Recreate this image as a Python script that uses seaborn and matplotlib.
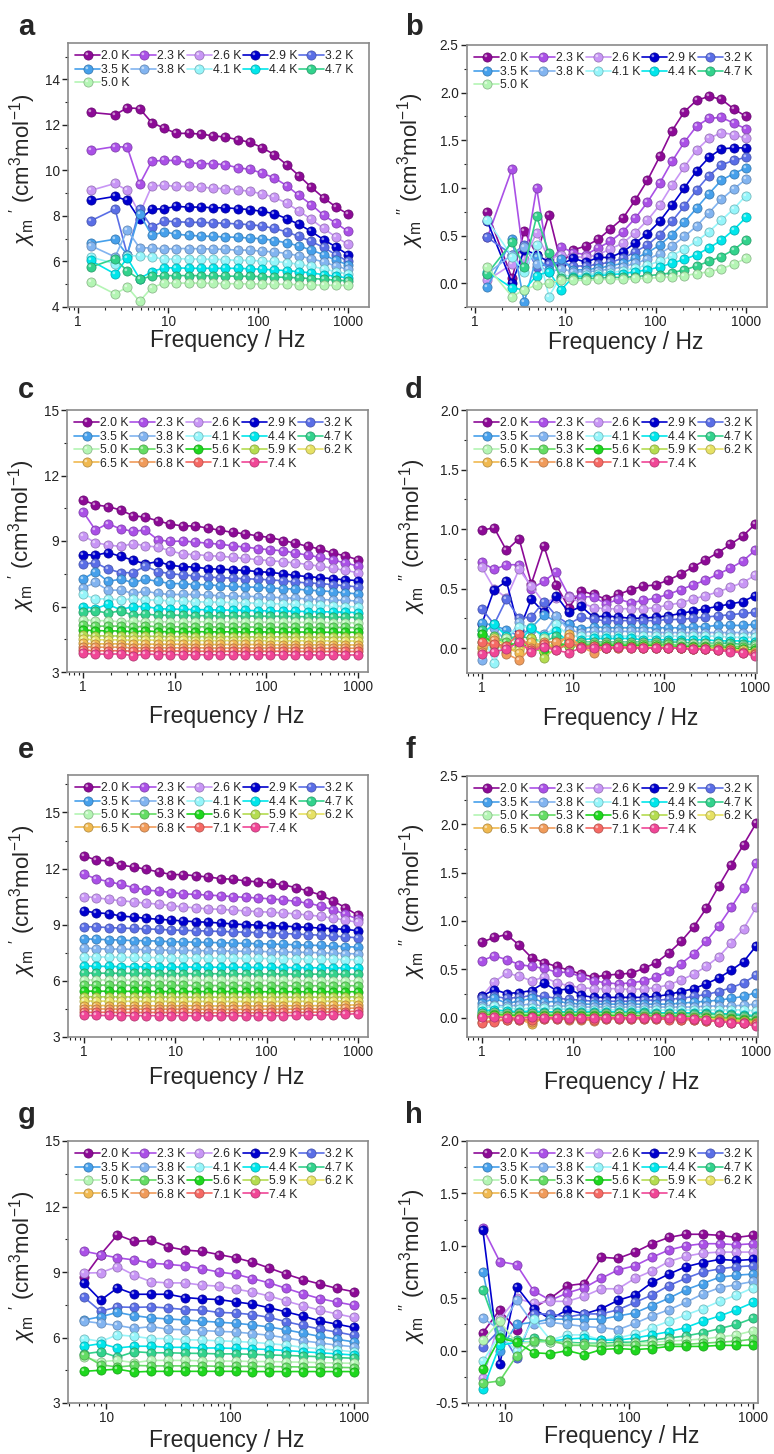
import numpy as np
import pandas as pd
import matplotlib
matplotlib.use("Agg")
import matplotlib.pyplot as plt
import matplotlib.colors as mcolors
import seaborn as sns
from matplotlib.path import Path
from matplotlib.lines import Line2D
from matplotlib.legend_handler import HandlerTuple
from matplotlib.ticker import FixedLocator, FuncFormatter, LogLocator, NullFormatter, FormatStrFormatter, AutoMinorLocator

# ---------------- data ----------------
TEMPS = ["2.0 K", "2.3 K", "2.6 K", "2.9 K", "3.2 K", "3.5 K", "3.8 K", "4.1 K", "4.4 K", "4.7 K",
         "5.0 K", "5.3 K", "5.6 K", "5.9 K", "6.2 K", "6.5 K", "6.8 K", "7.1 K", "7.4 K"]
COLORS = ['#8c0a96', '#aa50e6', '#c896f5', '#0000cd', '#5a6ee6', '#46a0eb', '#82b4f0', '#96f5fa',
          '#00e6eb', '#32d28c', '#b4f5b4', '#64dc64', '#1ed71e', '#b4dc50', '#e6e164', '#f0b950',
          '#f09b5a', '#f56964', '#f04696']

FREQ_AB = [1.37, 2.57, 3.51, 4.81, 6.58, 9.0, 12.3, 16.9, 23.1, 31.6, 43.3, 59.3, 81.1, 111, 152, 208,
           285, 390, 534, 731, 1000]
FREQ_CF = [1, 1.37, 1.87, 2.57, 3.51, 4.81, 6.58, 9.0, 12.3, 16.9, 23.1, 31.6, 43.3, 59.3, 81.1, 111,
           152, 208, 285, 390, 534, 731, 1000]
FREQ_GH = [6.58, 9.0, 12.3, 16.9, 23.1, 31.6, 43.3, 59.3, 81.1, 111, 152, 208, 285, 390, 534, 731, 1000]

CHI1_A = [
    [12.55, 12.45, 12.75, 12.72, 12.1, 11.86, 11.63, 11.63, 11.6, 11.52, 11.47, 11.35, 11.24, 11.0, 10.69, 10.25, 9.77, 9.26, 8.8, 8.4, 8.08],
    [10.88, 11.05, 11.02, 9.39, 10.41, 10.44, 10.44, 10.34, 10.3, 10.3, 10.25, 10.12, 10.05, 9.88, 9.67, 9.33, 8.9, 8.5, 8.03, 7.69, 7.32],
    [9.12, 9.43, 9.12, 8.1, 9.32, 9.35, 9.3, 9.3, 9.27, 9.22, 9.2, 9.15, 9.08, 8.97, 8.82, 8.56, 8.22, 7.85, 7.45, 7.08, 6.75],
    [8.68, 8.86, 8.68, 7.85, 8.29, 8.32, 8.42, 8.39, 8.39, 8.36, 8.36, 8.32, 8.28, 8.2, 8.1, 7.88, 7.63, 7.32, 6.96, 6.64, 6.3],
    [7.78, 8.3, 6.3, 8.3, 7.5, 7.78, 7.75, 7.72, 7.72, 7.7, 7.68, 7.65, 7.62, 7.56, 7.45, 7.3, 7.1, 6.88, 6.62, 6.3, 6.0],
    [6.8, 6.98, 6.3, 8.1, 7.15, 7.3, 7.2, 7.15, 7.12, 7.1, 7.08, 7.06, 7.03, 7.0, 6.92, 6.82, 6.68, 6.5, 6.3, 6.05, 5.85],
    [6.7, 6.2, 7.38, 6.6, 6.6, 6.55, 6.57, 6.57, 6.56, 6.55, 6.53, 6.5, 6.5, 6.45, 6.42, 6.35, 6.25, 6.12, 5.98, 5.8, 5.65],
    [6.2, 5.9, 6.25, 6.25, 6.2, 6.1, 6.12, 6.12, 6.1, 6.1, 6.08, 6.05, 6.05, 6.02, 6.0, 5.95, 5.88, 5.78, 5.68, 5.55, 5.45],
    [6.05, 5.45, 6.15, 5.25, 5.55, 5.72, 5.72, 5.7, 5.7, 5.7, 5.7, 5.7, 5.68, 5.66, 5.63, 5.6, 5.55, 5.5, 5.42, 5.35, 5.28],
    [5.75, 6.12, 5.58, 5.22, 5.35, 5.38, 5.38, 5.38, 5.38, 5.37, 5.36, 5.35, 5.35, 5.34, 5.32, 5.3, 5.28, 5.25, 5.22, 5.18, 5.15],
    [5.12, 4.57, 4.88, 4.25, 4.85, 5.05, 5.05, 5.05, 5.05, 5.04, 5.03, 5.02, 5.02, 5.01, 5.0, 5.0, 4.98, 4.97, 4.96, 4.95, 4.95],
]
CHI2_B = [
    [0.75, 0.05, 0.55, 0.3, 0.72, 0.2, 0.35, 0.39, 0.46, 0.57, 0.68, 0.87, 1.08, 1.33, 1.6, 1.8, 1.92, 1.96, 1.93, 1.83, 1.75],
    [0.48, 1.2, 0.22, 1.0, 0.2, 0.38, 0.32, 0.3, 0.37, 0.44, 0.54, 0.68, 0.85, 1.05, 1.28, 1.48, 1.65, 1.73, 1.74, 1.68, 1.62],
    [0.03, 0.2, 0.25, 0.53, 0.25, 0.3, 0.28, 0.27, 0.3, 0.36, 0.42, 0.53, 0.66, 0.82, 1.03, 1.22, 1.4, 1.52, 1.58, 1.56, 1.52],
    [0.65, 0.0, 0.35, 0.3, 0.22, 0.2, 0.26, 0.22, 0.27, 0.27, 0.33, 0.42, 0.52, 0.65, 0.82, 1.0, 1.18, 1.32, 1.41, 1.42, 1.42],
    [0.48, 0.3, 0.4, 0.17, 0.2, 0.22, 0.18, 0.18, 0.2, 0.22, 0.26, 0.33, 0.4, 0.51, 0.65, 0.81, 0.98, 1.13, 1.24, 1.29, 1.32],
    [-0.04, 0.46, -0.2, 0.28, 0.14, 0.25, 0.14, 0.14, 0.16, 0.18, 0.21, 0.26, 0.32, 0.4, 0.51, 0.64, 0.79, 0.94, 1.08, 1.15, 1.21],
    [0.1, 0.3, 0.38, 0.2, 0.12, 0.15, 0.12, 0.12, 0.13, 0.15, 0.17, 0.21, 0.25, 0.31, 0.39, 0.49, 0.6, 0.74, 0.88, 0.99, 1.09],
    [0.66, 0.28, 0.12, 0.4, -0.14, 0.08, 0.08, 0.09, 0.1, 0.11, 0.13, 0.16, 0.19, 0.23, 0.29, 0.36, 0.44, 0.54, 0.66, 0.78, 0.92],
    [0.12, -0.05, -0.07, 0.08, 0.12, -0.07, 0.07, 0.07, 0.08, 0.09, 0.1, 0.12, 0.14, 0.17, 0.21, 0.25, 0.3, 0.37, 0.45, 0.56, 0.69],
    [0.1, 0.43, 0.17, 0.7, 0.32, 0.05, 0.05, 0.05, 0.05, 0.06, 0.06, 0.07, 0.08, 0.09, 0.11, 0.14, 0.18, 0.23, 0.28, 0.35, 0.45],
    [0.17, -0.14, -0.07, -0.02, 0.0, 0.03, 0.03, 0.03, 0.04, 0.04, 0.04, 0.05, 0.05, 0.06, 0.07, 0.08, 0.1, 0.12, 0.15, 0.2, 0.26],
]
CHI1_C = [
    [10.88, 10.65, 10.58, 10.42, 10.16, 10.09, 9.92, 9.77, 9.69, 9.69, 9.59, 9.49, 9.39, 9.33, 9.23, 9.16, 9.02, 8.9, 8.75, 8.63, 8.44, 8.32, 8.14],
    [10.35, 9.5, 9.8, 9.55, 9.45, 9.5, 9.05, 8.98, 9.0, 8.95, 8.9, 8.85, 8.78, 8.72, 8.65, 8.6, 8.55, 8.45, 8.35, 8.25, 8.12, 8.0, 7.85],
    [9.25, 8.92, 8.82, 8.75, 8.88, 8.78, 8.72, 8.55, 8.4, 8.38, 8.33, 8.3, 8.25, 8.2, 8.15, 8.1, 8.05, 8.0, 7.92, 7.85, 7.75, 7.65, 7.55],
    [8.38, 8.35, 8.47, 8.3, 8.12, 7.95, 8.06, 7.88, 7.83, 7.8, 7.73, 7.71, 7.68, 7.65, 7.6, 7.56, 7.5, 7.42, 7.37, 7.32, 7.27, 7.22, 7.19],
    [7.95, 8.0, 7.72, 7.55, 7.55, 7.85, 7.6, 7.5, 7.45, 7.4, 7.35, 7.32, 7.3, 7.27, 7.25, 7.22, 7.18, 7.12, 7.08, 7.05, 7.0, 6.95, 6.9],
    [7.25, 7.6, 7.15, 7.25, 7.1, 7.25, 7.15, 7.05, 7.05, 7.0, 7.0, 6.95, 6.92, 6.9, 6.88, 6.85, 6.82, 6.8, 6.75, 6.72, 6.68, 6.62, 6.58],
    [6.85, 7.1, 6.75, 6.75, 6.6, 6.7, 6.6, 6.55, 6.55, 6.55, 6.52, 6.5, 6.48, 6.47, 6.45, 6.43, 6.4, 6.38, 6.35, 6.32, 6.3, 6.28, 6.25],
    [6.55, 6.35, 6.35, 6.3, 6.35, 6.3, 6.3, 6.25, 6.25, 6.22, 6.2, 6.2, 6.18, 6.17, 6.15, 6.13, 6.12, 6.1, 6.08, 6.05, 6.03, 6.0, 5.98],
    [6.0, 5.9, 6.1, 5.85, 6.0, 6.0, 5.9, 5.88, 5.87, 5.86, 5.85, 5.84, 5.83, 5.82, 5.81, 5.8, 5.79, 5.78, 5.77, 5.76, 5.75, 5.74, 5.72],
    [5.75, 5.8, 5.7, 5.8, 5.6, 5.65, 5.6, 5.6, 5.6, 5.58, 5.58, 5.57, 5.57, 5.56, 5.56, 5.55, 5.55, 5.54, 5.53, 5.52, 5.52, 5.51, 5.5],
    [5.4, 5.35, 5.35, 5.3, 5.35, 5.3, 5.3, 5.3, 5.3, 5.3, 5.3, 5.29, 5.29, 5.29, 5.28, 5.28, 5.28, 5.27, 5.27, 5.27, 5.26, 5.26, 5.25],
    [5.15, 5.1, 5.1, 5.1, 5.05, 5.1, 5.08, 5.07, 5.07, 5.07, 5.07, 5.06, 5.06, 5.06, 5.06, 5.05, 5.05, 5.05, 5.05, 5.04, 5.04, 5.04, 5.03],
    [4.92, 4.9, 4.88, 4.88, 4.85, 4.88, 4.85, 4.85, 4.85, 4.85, 4.84, 4.84, 4.84, 4.84, 4.84, 4.83, 4.83, 4.83, 4.83, 4.82, 4.82, 4.82, 4.82],
    [4.68, 4.66, 4.65, 4.65, 4.63, 4.64, 4.63, 4.62, 4.62, 4.62, 4.62, 4.62, 4.62, 4.61, 4.61, 4.61, 4.61, 4.61, 4.6, 4.6, 4.6, 4.6, 4.6],
    [4.5, 4.48, 4.47, 4.47, 4.45, 4.47, 4.45, 4.45, 4.45, 4.44, 4.44, 4.44, 4.44, 4.44, 4.44, 4.43, 4.43, 4.43, 4.43, 4.43, 4.42, 4.42, 4.42],
    [4.31, 4.3, 4.28, 4.3, 4.26, 4.28, 4.27, 4.27, 4.27, 4.26, 4.26, 4.26, 4.26, 4.26, 4.26, 4.25, 4.25, 4.25, 4.25, 4.25, 4.25, 4.24, 4.24],
    [4.16, 4.14, 4.13, 4.14, 4.1, 4.12, 4.11, 4.11, 4.11, 4.11, 4.1, 4.1, 4.1, 4.1, 4.1, 4.1, 4.1, 4.1, 4.09, 4.09, 4.09, 4.09, 4.09],
    [4.0, 3.98, 3.97, 3.98, 3.95, 3.97, 3.96, 3.96, 3.96, 3.95, 3.95, 3.95, 3.95, 3.95, 3.95, 3.95, 3.95, 3.94, 3.94, 3.94, 3.94, 3.94, 3.94],
    [3.85, 3.82, 3.82, 3.83, 3.75, 3.82, 3.8, 3.8, 3.79, 3.79, 3.79, 3.79, 3.79, 3.79, 3.79, 3.78, 3.78, 3.78, 3.78, 3.78, 3.78, 3.78, 3.78],
]
CHI2_D = [
    [0.99, 1.01, 0.82, 0.92, 0.54, 0.86, 0.53, 0.34, 0.48, 0.45, 0.41, 0.45, 0.49, 0.52, 0.53, 0.57, 0.62, 0.68, 0.74, 0.8, 0.87, 0.94, 1.04],
    [0.72, 0.66, 0.7, 0.7, 0.5, 0.56, 0.64, 0.44, 0.43, 0.43, 0.37, 0.41, 0.38, 0.4, 0.42, 0.45, 0.49, 0.53, 0.57, 0.62, 0.67, 0.73, 0.82],
    [0.68, 0.5, 0.42, 0.66, 0.52, 0.38, 0.42, 0.43, 0.38, 0.34, 0.33, 0.33, 0.33, 0.33, 0.34, 0.36, 0.38, 0.41, 0.44, 0.47, 0.51, 0.55, 0.61],
    [0.2, 0.49, 0.56, 0.15, 0.41, 0.3, 0.44, 0.3, 0.35, 0.26, 0.27, 0.26, 0.25, 0.25, 0.26, 0.27, 0.29, 0.31, 0.33, 0.35, 0.37, 0.39, 0.44],
    [0.33, 0.2, 0.41, 0.25, 0.26, 0.39, 0.27, 0.2, 0.26, 0.24, 0.23, 0.23, 0.23, 0.23, 0.23, 0.24, 0.24, 0.25, 0.26, 0.27, 0.28, 0.29, 0.3],
    [0.21, 0.19, 0.15, 0.1, 0.17, 0.28, 0.22, 0.2, 0.16, 0.18, 0.17, 0.17, 0.17, 0.17, 0.17, 0.17, 0.17, 0.18, 0.18, 0.19, 0.19, 0.19, 0.2],
    [-0.1, 0.17, 0.05, 0.22, 0.15, 0.12, 0.27, 0.15, 0.13, 0.14, 0.14, 0.14, 0.14, 0.14, 0.13, 0.13, 0.13, 0.13, 0.13, 0.13, 0.13, 0.13, 0.13],
    [0.15, -0.13, 0.1, 0.18, 0.18, 0.08, 0.2, 0.1, 0.1, 0.1, 0.1, 0.1, 0.1, 0.1, 0.1, 0.1, 0.1, 0.1, 0.1, 0.1, 0.09, 0.09, 0.09],
    [0.12, 0.2, 0.1, 0.05, 0.17, 0.1, 0.14, 0.05, 0.07, 0.08, 0.08, 0.08, 0.08, 0.07, 0.07, 0.07, 0.07, 0.07, 0.07, 0.06, 0.06, 0.06, 0.05],
    [0.15, 0.05, 0.08, 0.1, 0.08, 0.05, 0.1, 0.05, 0.05, 0.05, 0.05, 0.05, 0.05, 0.05, 0.05, 0.05, 0.05, 0.04, 0.04, 0.04, 0.04, 0.03, 0.03],
    [0.1, 0.02, 0.08, 0.05, 0.03, 0.08, 0.03, 0.04, 0.04, 0.04, 0.04, 0.04, 0.04, 0.04, 0.04, 0.03, 0.03, 0.03, 0.03, 0.03, 0.02, 0.02, 0.02],
    [0.05, 0.1, 0.05, 0.02, 0.05, -0.03, 0.05, 0.02, 0.03, 0.03, 0.03, 0.03, 0.03, 0.03, 0.03, 0.03, 0.02, 0.02, 0.02, 0.02, 0.01, 0.01, 0.0],
    [0.12, 0.03, 0.02, 0.04, 0.0, -0.03, 0.03, 0.02, 0.02, 0.02, 0.02, 0.02, 0.02, 0.02, 0.02, 0.01, 0.01, 0.01, 0.01, 0.0, 0.0, -0.01, -0.02],
    [0.0, 0.05, -0.03, 0.0, 0.08, -0.08, 0.0, 0.02, 0.01, 0.01, 0.01, 0.01, 0.01, 0.01, 0.01, 0.01, 0.0, 0.0, 0.0, 0.0, -0.01, -0.02, -0.03],
    [0.0, 0.08, 0.02, -0.02, 0.03, 0.02, 0.03, 0.1, 0.01, 0.01, 0.0, 0.01, 0.01, 0.01, 0.01, 0.0, 0.0, 0.0, 0.0, -0.01, -0.01, -0.02, -0.03],
    [0.02, 0.03, 0.0, -0.04, 0.05, 0.02, 0.0, 0.12, 0.0, -0.01, 0.0, 0.0, 0.0, 0.0, 0.0, 0.0, 0.0, -0.01, -0.01, -0.01, -0.02, -0.03, -0.04],
    [-0.03, 0.07, -0.05, -0.1, 0.0, 0.05, 0.05, 0.09, 0.01, -0.04, 0.0, 0.01, 0.0, 0.0, 0.0, 0.0, 0.0, -0.01, -0.01, -0.02, -0.02, -0.03, -0.05],
    [0.05, 0.03, 0.02, 0.12, -0.02, 0.03, -0.02, 0.04, 0.01, 0.02, 0.0, 0.0, 0.01, 0.0, 0.0, 0.0, 0.0, -0.01, -0.01, -0.02, -0.02, -0.04, -0.05],
    [-0.05, -0.03, -0.01, 0.05, -0.03, 0.01, -0.02, -0.04, 0.0, 0.0, 0.0, 0.01, 0.0, 0.0, 0.0, 0.0, 0.0, -0.01, -0.01, -0.02, -0.03, -0.04, -0.07],
]
CHI1_E = [
    [12.68, 12.45, 12.41, 12.18, 12.09, 11.96, 11.82, 11.68, 11.68, 11.61, 11.55, 11.46, 11.43, 11.34, 11.29, 11.21, 11.14, 10.98, 10.8, 10.59, 10.27, 9.91, 9.5],
    [11.7, 11.45, 11.3, 11.15, 10.98, 10.85, 10.8, 10.72, 10.65, 10.62, 10.58, 10.55, 10.5, 10.46, 10.43, 10.38, 10.33, 10.25, 10.15, 10.0, 9.8, 9.55, 9.3],
    [10.5, 10.45, 10.35, 10.28, 10.22, 10.15, 10.1, 10.02, 9.95, 9.9, 9.85, 9.82, 9.78, 9.74, 9.7, 9.67, 9.63, 9.58, 9.52, 9.45, 9.35, 9.25, 9.12],
    [9.73, 9.64, 9.59, 9.46, 9.41, 9.34, 9.29, 9.25, 9.2, 9.16, 9.13, 9.09, 9.04, 9.0, 8.98, 8.95, 8.93, 8.89, 8.86, 8.82, 8.79, 8.75, 8.68],
    [8.9, 8.88, 8.85, 8.82, 8.8, 8.78, 8.75, 8.72, 8.7, 8.68, 8.66, 8.64, 8.62, 8.6, 8.58, 8.56, 8.53, 8.5, 8.47, 8.44, 8.4, 8.35, 8.3],
    [8.25, 8.22, 8.2, 8.18, 8.15, 8.15, 8.12, 8.1, 8.08, 8.07, 8.05, 8.04, 8.02, 8.0, 7.99, 7.97, 7.95, 7.93, 7.91, 7.89, 7.86, 7.83, 7.8],
    [7.75, 7.72, 7.7, 7.7, 7.68, 7.67, 7.65, 7.64, 7.63, 7.62, 7.61, 7.6, 7.59, 7.58, 7.57, 7.56, 7.55, 7.53, 7.52, 7.5, 7.48, 7.46, 7.44],
    [7.3, 7.28, 7.27, 7.26, 7.25, 7.25, 7.24, 7.23, 7.23, 7.22, 7.22, 7.21, 7.21, 7.2, 7.2, 7.19, 7.19, 7.18, 7.17, 7.16, 7.15, 7.14, 7.13],
    [6.8, 6.78, 6.77, 6.76, 6.76, 6.75, 6.75, 6.74, 6.74, 6.74, 6.73, 6.73, 6.73, 6.72, 6.72, 6.72, 6.71, 6.71, 6.7, 6.7, 6.69, 6.69, 6.68],
    [6.42, 6.41, 6.41, 6.4, 6.4, 6.4, 6.39, 6.39, 6.39, 6.38, 6.38, 6.38, 6.38, 6.37, 6.37, 6.37, 6.37, 6.36, 6.36, 6.36, 6.36, 6.35, 6.35],
    [6.05, 6.05, 6.04, 6.04, 6.04, 6.04, 6.03, 6.03, 6.03, 6.03, 6.03, 6.02, 6.02, 6.02, 6.02, 6.02, 6.02, 6.01, 6.01, 6.01, 6.01, 6.01, 6.0],
    [5.78, 5.77, 5.77, 5.77, 5.76, 5.76, 5.76, 5.76, 5.76, 5.75, 5.75, 5.75, 5.75, 5.75, 5.75, 5.75, 5.74, 5.74, 5.74, 5.74, 5.74, 5.74, 5.74],
    [5.45, 5.45, 5.44, 5.44, 5.44, 5.44, 5.43, 5.43, 5.43, 5.43, 5.43, 5.43, 5.43, 5.42, 5.42, 5.42, 5.42, 5.42, 5.42, 5.42, 5.42, 5.42, 5.42],
    [5.15, 5.15, 5.14, 5.14, 5.14, 5.14, 5.14, 5.14, 5.13, 5.13, 5.13, 5.13, 5.13, 5.13, 5.13, 5.13, 5.13, 5.13, 5.13, 5.13, 5.14, 5.14, 5.15],
    [4.92, 4.92, 4.91, 4.91, 4.91, 4.91, 4.91, 4.9, 4.9, 4.9, 4.9, 4.9, 4.9, 4.9, 4.9, 4.9, 4.9, 4.9, 4.91, 4.91, 4.92, 4.93, 4.94],
    [4.68, 4.68, 4.68, 4.67, 4.67, 4.67, 4.67, 4.67, 4.67, 4.67, 4.66, 4.66, 4.66, 4.66, 4.66, 4.66, 4.67, 4.67, 4.67, 4.68, 4.69, 4.7, 4.72],
    [4.5, 4.5, 4.5, 4.49, 4.49, 4.49, 4.49, 4.49, 4.49, 4.49, 4.48, 4.48, 4.48, 4.48, 4.48, 4.49, 4.49, 4.49, 4.5, 4.51, 4.52, 4.53, 4.55],
    [4.32, 4.32, 4.32, 4.31, 4.31, 4.31, 4.31, 4.31, 4.31, 4.3, 4.3, 4.3, 4.3, 4.3, 4.3, 4.31, 4.31, 4.31, 4.32, 4.33, 4.34, 4.36, 4.38],
    [4.15, 4.15, 4.15, 4.14, 4.14, 4.14, 4.14, 4.14, 4.14, 4.13, 4.13, 4.13, 4.13, 4.13, 4.14, 4.14, 4.14, 4.15, 4.16, 4.17, 4.19, 4.21, 4.25],
]
CHI2_F = [
    [0.78, 0.83, 0.86, 0.75, 0.62, 0.57, 0.53, 0.49, 0.45, 0.42, 0.44, 0.45, 0.46, 0.51, 0.57, 0.67, 0.79, 0.94, 1.13, 1.36, 1.58, 1.79, 2.01],
    [0.59, 0.64, 0.6, 0.55, 0.53, 0.51, 0.47, 0.47, 0.42, 0.38, 0.36, 0.35, 0.36, 0.38, 0.42, 0.48, 0.56, 0.66, 0.79, 0.95, 1.14, 1.34, 1.6],
    [0.22, 0.37, 0.46, 0.43, 0.38, 0.42, 0.36, 0.33, 0.31, 0.3, 0.3, 0.3, 0.29, 0.3, 0.31, 0.34, 0.39, 0.45, 0.53, 0.63, 0.77, 0.92, 1.14],
    [0.22, 0.29, 0.25, 0.26, 0.28, 0.36, 0.28, 0.3, 0.23, 0.21, 0.21, 0.21, 0.21, 0.21, 0.22, 0.24, 0.27, 0.3, 0.35, 0.41, 0.49, 0.58, 0.74],
    [0.2, 0.22, 0.2, 0.21, 0.23, 0.22, 0.2, 0.19, 0.18, 0.17, 0.17, 0.17, 0.17, 0.18, 0.18, 0.19, 0.2, 0.22, 0.24, 0.27, 0.31, 0.36, 0.44],
    [0.15, 0.2, 0.15, 0.17, 0.2, 0.16, 0.17, 0.15, 0.14, 0.14, 0.14, 0.14, 0.14, 0.14, 0.14, 0.14, 0.15, 0.16, 0.17, 0.18, 0.2, 0.22, 0.26],
    [0.12, 0.13, 0.12, 0.13, 0.14, 0.12, 0.12, 0.12, 0.11, 0.11, 0.11, 0.11, 0.11, 0.11, 0.11, 0.11, 0.11, 0.11, 0.12, 0.12, 0.12, 0.13, 0.14],
    [0.1, 0.12, 0.1, 0.09, 0.1, 0.1, 0.09, 0.09, 0.08, 0.08, 0.08, 0.08, 0.08, 0.08, 0.08, 0.08, 0.08, 0.08, 0.08, 0.08, 0.08, 0.08, 0.07],
    [0.07, 0.08, 0.07, 0.06, 0.07, 0.06, 0.06, 0.06, 0.06, 0.06, 0.06, 0.06, 0.06, 0.06, 0.05, 0.05, 0.05, 0.05, 0.05, 0.04, 0.04, 0.03, 0.02],
    [0.05, 0.06, 0.05, 0.05, 0.05, 0.05, 0.05, 0.05, 0.05, 0.05, 0.05, 0.05, 0.05, 0.05, 0.04, 0.04, 0.04, 0.04, 0.04, 0.03, 0.03, 0.02, 0.01],
    [0.04, 0.05, 0.04, 0.04, 0.04, 0.04, 0.04, 0.04, 0.04, 0.04, 0.04, 0.04, 0.03, 0.03, 0.03, 0.03, 0.03, 0.02, 0.02, 0.02, 0.01, 0.0, -0.01],
    [0.03, 0.04, 0.03, 0.03, 0.03, 0.03, 0.03, 0.03, 0.03, 0.03, 0.03, 0.02, 0.02, 0.02, 0.02, 0.02, 0.02, 0.01, 0.01, 0.0, 0.0, -0.01, -0.02],
    [0.02, 0.03, 0.02, 0.02, 0.02, 0.02, 0.02, 0.02, 0.02, 0.02, 0.02, 0.02, 0.02, 0.01, 0.01, 0.01, 0.01, 0.0, 0.0, -0.01, -0.01, -0.02, -0.03],
    [0.02, 0.02, 0.01, 0.01, 0.01, 0.01, 0.01, 0.01, 0.01, 0.01, 0.01, 0.01, 0.01, 0.01, 0.0, 0.0, 0.0, 0.0, -0.01, -0.01, -0.02, -0.03, -0.04],
    [0.01, 0.01, 0.01, 0.0, 0.0, 0.01, 0.0, 0.0, 0.0, 0.0, 0.0, 0.0, 0.0, 0.0, 0.0, 0.0, 0.0, -0.01, -0.01, -0.02, -0.03, -0.04, -0.05],
    [0.0, 0.0, 0.0, -0.01, -0.07, 0.0, 0.01, 0.0, 0.0, 0.0, 0.0, 0.0, 0.0, 0.0, 0.0, 0.0, -0.01, -0.01, -0.02, -0.02, -0.03, -0.04, -0.05],
    [-0.04, -0.03, -0.02, -0.02, -0.04, -0.01, -0.01, -0.02, -0.02, -0.03, -0.01, -0.01, -0.01, -0.01, -0.01, -0.01, -0.02, -0.02, -0.03, -0.03, -0.04, -0.05, -0.06],
    [-0.05, -0.04, -0.02, -0.02, -0.02, -0.01, -0.01, -0.01, -0.01, -0.02, -0.01, -0.01, -0.01, -0.01, -0.01, -0.02, -0.02, -0.02, -0.03, -0.04, -0.05, -0.06, -0.07],
    [0.01, 0.01, 0.0, -0.01, 0.01, 0.0, 0.0, 0.0, 0.0, 0.0, 0.0, 0.0, 0.0, 0.0, 0.0, 0.0, 0.0, -0.01, -0.02, -0.04, -0.05, -0.06, -0.09],
]
CHI1_G = [
    [8.75, 9.8, 10.7, 10.4, 10.45, 10.15, 10.0, 9.95, 9.8, 9.65, 9.45, 9.18, 8.9, 8.65, 8.45, 8.25, 8.1],
    [9.95, 9.8, 9.65, 9.55, 9.4, 9.35, 9.28, 9.15, 9.0, 8.9, 8.7, 8.5, 8.25, 8.0, 7.78, 7.62, 7.48],
    [8.95, 8.97, 9.25, 8.85, 8.55, 8.5, 8.5, 8.4, 8.35, 8.22, 8.08, 7.9, 7.67, 7.45, 7.25, 7.08, 6.92],
    [8.5, 7.71, 8.27, 7.98, 7.98, 7.98, 7.83, 7.77, 7.74, 7.63, 7.53, 7.36, 7.17, 6.98, 6.76, 6.61, 6.46],
    [7.85, 7.2, 7.4, 7.38, 7.4, 7.35, 7.28, 7.25, 7.15, 7.12, 7.05, 6.92, 6.72, 6.55, 6.38, 6.25, 6.1],
    [6.8, 6.95, 7.15, 7.0, 6.9, 6.85, 6.8, 6.75, 6.7, 6.65, 6.58, 6.48, 6.35, 6.2, 6.05, 5.92, 5.8],
    [6.75, 6.65, 6.55, 6.42, 6.5, 6.38, 6.35, 6.32, 6.28, 6.25, 6.18, 6.1, 5.98, 5.85, 5.75, 5.65, 5.58],
    [5.95, 5.82, 6.12, 6.05, 5.95, 5.95, 5.9, 5.88, 5.85, 5.82, 5.78, 5.72, 5.65, 5.55, 5.48, 5.42, 5.35],
    [5.6, 5.72, 5.52, 5.6, 5.6, 5.55, 5.55, 5.52, 5.52, 5.5, 5.48, 5.45, 5.4, 5.35, 5.3, 5.25, 5.2],
    [5.25, 5.35, 5.1, 5.35, 5.3, 5.3, 5.28, 5.27, 5.25, 5.25, 5.23, 5.2, 5.18, 5.15, 5.12, 5.08, 5.05],
    [5.1, 4.9, 4.95, 4.85, 4.95, 4.95, 4.95, 4.93, 4.92, 4.92, 4.9, 4.9, 4.88, 4.87, 4.85, 4.83, 4.82],
    [5.2, 4.75, 4.65, 4.72, 4.7, 4.7, 4.7, 4.7, 4.68, 4.68, 4.68, 4.67, 4.66, 4.65, 4.64, 4.63, 4.62],
    [4.45, 4.5, 4.55, 4.42, 4.45, 4.45, 4.45, 4.45, 4.45, 4.45, 4.44, 4.44, 4.44, 4.44, 4.44, 4.44, 4.44],
]
CHI2_H = [
    [0.17, 0.39, 0.2, 0.41, 0.5, 0.62, 0.64, 0.89, 0.88, 0.94, 1.02, 1.08, 1.11, 1.11, 1.1, 1.08, 1.1],
    [1.17, 0.85, 0.82, 0.57, 0.48, 0.55, 0.6, 0.69, 0.77, 0.81, 0.89, 0.96, 1.0, 1.02, 1.02, 1.01, 1.02],
    [-0.26, 0.3, 0.5, 0.45, 0.47, 0.47, 0.52, 0.59, 0.59, 0.69, 0.76, 0.85, 0.9, 0.93, 0.94, 0.94, 0.94],
    [1.15, -0.13, 0.61, 0.4, 0.3, 0.39, 0.35, 0.4, 0.48, 0.53, 0.65, 0.73, 0.8, 0.84, 0.87, 0.86, 0.87],
    [0.03, 0.2, -0.07, 0.35, 0.35, 0.32, 0.35, 0.35, 0.39, 0.46, 0.53, 0.62, 0.69, 0.75, 0.78, 0.8, 0.81],
    [0.75, 0.0, 0.25, 0.27, 0.3, 0.3, 0.3, 0.3, 0.33, 0.36, 0.43, 0.5, 0.58, 0.64, 0.7, 0.72, 0.73],
    [0.31, 0.2, 0.48, 0.25, 0.27, 0.25, 0.23, 0.22, 0.2, 0.26, 0.33, 0.39, 0.46, 0.54, 0.6, 0.63, 0.66],
    [-0.1, 0.15, 0.0, 0.3, 0.1, 0.15, 0.15, 0.1, 0.12, 0.16, 0.22, 0.28, 0.34, 0.4, 0.47, 0.53, 0.6],
    [-0.37, 0.05, 0.08, 0.08, 0.09, 0.11, 0.12, 0.1, 0.1, 0.12, 0.15, 0.18, 0.22, 0.28, 0.33, 0.39, 0.46],
    [0.58, 0.13, 0.1, 0.12, 0.08, 0.08, 0.07, 0.07, 0.08, 0.08, 0.1, 0.12, 0.14, 0.17, 0.21, 0.25, 0.31],
    [0.1, 0.28, 0.07, 0.08, 0.08, 0.07, 0.06, 0.06, 0.06, 0.07, 0.08, 0.09, 0.1, 0.11, 0.13, 0.15, 0.19],
    [-0.31, -0.29, -0.05, 0.09, 0.1, 0.05, 0.05, 0.04, 0.05, 0.05, 0.05, 0.06, 0.06, 0.07, 0.08, 0.09, 0.11],
    [-0.18, 0.12, 0.08, -0.02, -0.03, 0.0, -0.04, 0.01, 0.02, 0.01, 0.02, 0.04, 0.04, 0.04, 0.05, 0.05, 0.05],
]

# ---------------- style ----------------
sns.set_style("ticks")
plt.rcParams.update({
    "font.family": ["Liberation Sans", "DejaVu Sans"],
    "mathtext.fontset": "custom",
    "mathtext.rm": "Liberation Sans",
    "mathtext.it": "Liberation Sans:italic",
    "mathtext.bf": "Liberation Sans:bold",
    "axes.unicode_minus": False,
})

W, H = 774, 1454
fig = plt.figure(figsize=(W / 100, H / 100), dpi=100)
fig.patch.set_facecolor("white")

MS = 6.6
LW = 1.2

# highlight marker (small offset circle, normalised with invisible far points)
_c = Path.circle(center=(-0.36, 0.36), radius=0.30)
HL = Path(np.vstack([_c.vertices, [[1, 1], [-1, -1]]]),
          np.concatenate([_c.codes, [Path.MOVETO, Path.MOVETO]]))


def darker(col, f=0.72):
    r, g, b = mcolors.to_rgb(col)
    return (r * f, g * f, b * f)


def add_ax(l, t, r, b):
    return fig.add_axes([l / W, 1 - b / H, (r - l) / W, (b - t) / H])


YL1 = r"$\chi_{\rm m}$ $^{\prime}$ (cm$^{3}$mol$^{-1}$)"
YL2 = r"$\chi_{\rm m}$ $^{\prime\prime}$ (cm$^{3}$mol$^{-1}$)"


def panel(box, freq, data, nleg, xlim, ylim, yticks, xticks, ylab, yfmt,
          ylab_x, xlab_y, letter, letter_xy):
    ax = add_ax(*box)
    ax.set_xscale("log")
    for i, vals in enumerate(data):
        assert len(vals) == len(freq), (letter, TEMPS[i], len(vals), len(freq))
        df = pd.DataFrame({"freq": freq, "chi": vals})
        col = COLORS[i]
        sns.lineplot(data=df, x="freq", y="chi", ax=ax, color=col, linewidth=LW,
                     marker="o", markersize=MS, markeredgecolor=darker(col),
                     markeredgewidth=0.5, estimator=None, legend=False,
                     zorder=2 + i * 0.02)
        sns.lineplot(data=df, x="freq", y="chi", ax=ax, color="white", linestyle="none",
                     marker=HL, markersize=MS, markeredgewidth=0, alpha=0.55,
                     estimator=None, legend=False, zorder=2.01 + i * 0.02)
    ax.set_xlim(*xlim)
    ax.set_ylim(*ylim)
    ax.xaxis.set_major_locator(FixedLocator(xticks))
    ax.xaxis.set_major_formatter(FuncFormatter(lambda v, p: f"{v:g}"))
    ax.xaxis.set_minor_locator(LogLocator(base=10, subs=np.arange(2, 10)))
    ax.xaxis.set_minor_formatter(NullFormatter())
    ax.yaxis.set_major_locator(FixedLocator(yticks))
    ax.yaxis.set_major_formatter(FormatStrFormatter(yfmt))
    ax.yaxis.set_minor_locator(AutoMinorLocator(2))
    ax.tick_params(which="both", direction="out", top=False, right=False,
                   colors="#222222", labelsize=9.8, pad=2)
    ax.tick_params(which="major", length=4, width=1.0)
    ax.tick_params(which="minor", length=2.2, width=0.8)
    for s in ax.spines.values():
        s.set_color("#8a8a8a")
        s.set_linewidth(1.2)
        s.set_visible(True)
    ax.set_xlabel("Frequency / Hz", fontsize=16.5)
    ax.set_ylabel(ylab, fontsize=16)
    ax.xaxis.set_label_coords(0.53, xlab_y)
    ax.yaxis.set_label_coords(ylab_x, 0.52)

    handles = []
    for i in range(nleg):
        col = COLORS[i]
        h1 = Line2D([], [], color=col, lw=LW, marker="o", ms=MS,
                    mec=darker(col), mew=0.5)
        h2 = Line2D([], [], color="white", ls="none", marker=HL, ms=MS, mew=0, alpha=0.55)
        handles.append((h1, h2))
    order = [i for c in range(5) for i in range(nleg) if i % 5 == c]
    ax.legend([handles[i] for i in order], [TEMPS[i] for i in order], ncol=5,
              loc="upper left", bbox_to_anchor=(0.0, 1.0), frameon=False, fontsize=8.8,
              handlelength=2.0, handletextpad=0.1, columnspacing=0.15,
              labelspacing=0.12, borderaxespad=0.3, borderpad=0.3,
              handler_map={tuple: HandlerTuple(ndivide=1, pad=0)})
    fig.text(letter_xy[0] / W, 1 - letter_xy[1] / H, letter, fontsize=21,
             fontweight="bold", ha="left", va="center")
    return ax


X_DEC = [1, 10, 100, 1000]
X_GH = [10, 100, 1000]

panel((68, 43, 369, 307), FREQ_AB, CHI1_A, 11, (0.77, 1710), (4, 15.6),
      [4, 6, 8, 10, 12, 14], X_DEC, YL1, "%g", -0.10, -0.085, "a", (18, 27))
panel((467, 45, 767, 307), FREQ_AB, CHI2_B, 11, (0.815, 1710), (-0.25, 2.5),
      [0, 0.5, 1.0, 1.5, 2.0, 2.5], X_DEC, YL2, "%.1f", -0.135, -0.09, "b", (405, 27))
panel((67, 410, 368, 672), FREQ_CF, CHI1_C, 19, (0.67, 1290), (3, 15),
      [3, 6, 9, 12, 15], X_DEC, YL1, "%g", -0.10, -0.125, "c", (18, 390))
panel((467, 410, 757, 673), FREQ_CF, CHI2_D, 19, (0.69, 1050), (-0.21, 2.0),
      [0, 0.5, 1.0, 1.5, 2.0], X_DEC, YL2, "%.1f", -0.135, -0.13, "d", (405, 390))
panel((68, 775, 368, 1037), FREQ_CF, CHI1_E, 19, (0.67, 1290), (3, 17),
      [3, 6, 9, 12, 15], X_DEC, YL1, "%g", -0.10, -0.11, "e", (18, 750))
panel((467, 776, 758, 1037), FREQ_CF, CHI2_F, 19, (0.69, 1050), (-0.2, 2.5),
      [0, 0.5, 1.0, 1.5, 2.0, 2.5], X_DEC, YL2, "%.1f", -0.135, -0.13, "f", (405, 750))
panel((68, 1141, 368, 1403), FREQ_GH, CHI1_G, 19, (4.9, 1306), (3, 15),
      [3, 6, 9, 12, 15], X_GH, YL1, "%g", -0.10, -0.10, "g", (18, 1115))
panel((467, 1141, 758, 1403), FREQ_GH, CHI2_H, 19, (4.9, 1090), (-0.5, 2.0),
      [-0.5, 0, 0.5, 1.0, 1.5, 2.0], X_GH, YL2, "%.1f", -0.135, -0.085, "h", (405, 1115))

fig.savefig("out.png", dpi=100, facecolor="white")
